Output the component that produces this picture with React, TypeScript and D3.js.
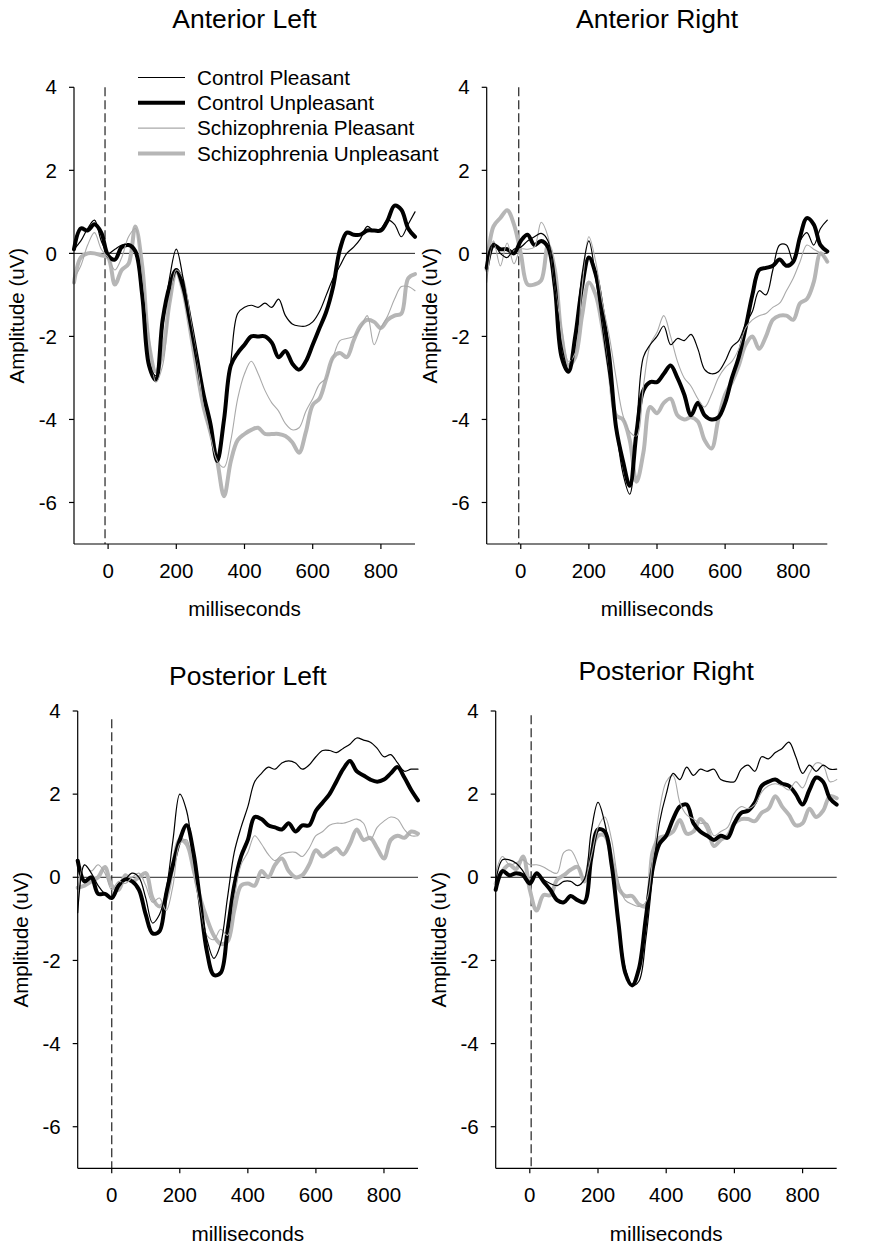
import React from "react";
import * as d3 from "d3";

// ---------- DATA ----------
const TIMES = [-100, -80, -60, -40, -20, 0, 20, 40, 60, 80, 100, 120, 140, 160, 180, 200, 220, 240, 260, 280, 300, 320, 340, 360, 380, 400, 420, 440, 460, 480, 500, 520, 540, 560, 580, 600, 620, 640, 660, 680, 700, 720, 740, 760, 780, 800, 820, 840, 860, 880, 900];

const X_TICKS = [0, 200, 400, 600, 800];
const Y_TICKS = [4, 2, 0, -2, -4, -6];
const SERIES_NAMES = ["Control Pleasant", "Control Unpleasant", "Schizophrenia Pleasant", "Schizophrenia Unpleasant"];
const PANEL_TITLES = ["Anterior Left", "Anterior Right", "Posterior Left", "Posterior Right"];
const ONSET_MARK = [-9, -6, 0, 4];
const ONSET_TOP = [4.0, 4.0, 3.8, 3.9];

// Anterior Left
const AL_CP = [0.1, 0.3, 0.6, 0.8, 0.3, 0.0, 0.1, 0.2, 0.2, 0.0, -1.0, -2.6, -2.95, -1.8, -0.6, 0.1, -0.6, -1.6, -2.5, -3.4, -4.1, -4.9, -4.0, -2.6, -1.45, -1.3, -1.25, -1.3, -1.2, -1.3, -1.1, -1.5, -1.7, -1.75, -1.75, -1.65, -1.4, -1.0, -0.6, -0.3, 0.0, 0.15, 0.35, 0.65, 0.55, 0.6, 0.8, 0.7, 0.4, 0.7, 1.0];
const AL_CU = [0.1, 0.6, 0.55, 0.7, 0.5, -0.05, -0.15, 0.15, 0.2, 0.05, -1.0, -2.7, -3.05, -1.6, -0.8, -0.4, -0.8, -1.6, -2.5, -3.4, -4.1, -5.0, -4.0, -2.7, -2.4, -2.2, -2.0, -2.0, -2.0, -2.15, -2.5, -2.35, -2.65, -2.8, -2.6, -2.2, -1.8, -1.4, -0.8, 0.1, 0.5, 0.45, 0.45, 0.55, 0.55, 0.55, 0.8, 1.15, 1.05, 0.6, 0.4];
const AL_SP = [-0.6, -0.3, 0.2, 0.5, 0.1, -0.1, -0.4, -0.1, 0.4, 0.6, -0.5, -2.0, -3.1, -2.7, -1.2, -0.4, -0.6, -1.5, -2.5, -3.7, -4.4, -5.0, -5.15, -4.5, -3.5, -2.9, -2.6, -2.9, -3.3, -3.6, -3.8, -4.1, -4.25, -4.2, -3.8, -3.5, -3.15, -3.0, -2.5, -2.1, -2.05, -2.0, -1.8, -1.5, -2.2, -1.8, -1.5, -1.1, -0.8, -0.8, -0.9];
const AL_SU = [-0.7, -0.1, 0.0, 0.0, -0.05, -0.1, -0.75, -0.4, -0.25, 0.65, -0.3, -2.2, -2.85, -2.4, -1.2, -0.45, -0.9, -1.8, -2.8, -3.7, -4.3, -5.0, -5.85, -5.0, -4.5, -4.35, -4.25, -4.2, -4.35, -4.35, -4.35, -4.4, -4.55, -4.8, -4.3, -3.65, -3.5, -3.0, -2.5, -2.4, -2.5, -2.1, -1.75, -1.6, -1.65, -1.8, -1.6, -1.5, -1.45, -0.6, -0.5];

// Anterior Right
const AR_CP = [-0.3, 0.25, 0.0, -0.1, 0.1, 0.15, 0.3, 0.4, 0.48, 0.3, -0.8, -2.2, -2.8, -2.0, -0.5, 0.3, -0.6, -1.8, -3.0, -4.2, -5.3, -5.8, -4.2, -2.5, -2.2, -2.0, -1.75, -2.2, -2.05, -2.1, -1.95, -2.3, -2.8, -2.9, -2.85, -2.6, -2.25, -2.1, -1.7, -1.4, -0.9, -1.0, -0.4, 0.2, 0.2, -0.2, 0.3, 0.5, 0.2, 0.6, 0.8];
const AR_CU = [-0.35, 0.2, 0.1, 0.1, 0.0, 0.3, 0.45, 0.2, 0.3, 0.15, -0.8, -2.5, -2.85, -2.0, -0.8, -0.1, -0.5, -1.4, -2.5, -4.2, -5.0, -5.6, -4.3, -3.3, -3.1, -3.1, -2.9, -2.7, -3.0, -3.4, -3.9, -3.6, -3.9, -4.0, -3.95, -3.6, -3.0, -2.5, -1.8, -1.0, -0.4, -0.35, -0.3, -0.15, -0.3, -0.2, 0.4, 0.85, 0.7, 0.2, 0.05];
const AR_SP = [-0.7, 0.3, -0.3, 0.25, -0.25, 0.1, 0.1, 0.15, 0.75, 0.4, -0.8, -1.8, -2.6, -2.4, -0.8, 0.4, -0.2, -1.2, -2.0, -3.0, -3.9, -4.3, -4.4, -3.2, -2.2, -1.9, -1.5, -2.0, -2.6, -3.0, -3.2, -3.5, -3.7, -3.4, -3.0, -2.75, -2.6, -2.3, -1.8, -1.6, -1.5, -1.45, -1.3, -1.2, -0.9, -0.6, -0.2, 0.2, 0.1, 0.0, -0.2];
const AR_SU = [-0.4, 0.65, 0.85, 1.04, 0.7, 0.0, -0.75, -0.75, -0.65, 0.2, -0.4, -2.0, -2.7, -2.5, -1.5, -0.7, -1.0, -1.8, -2.8, -3.9, -4.0, -4.5, -5.5, -4.8, -3.7, -3.85, -3.6, -3.5, -3.9, -4.0, -3.95, -4.05, -4.5, -4.7, -4.0, -3.4, -3.1, -2.7, -2.2, -2.0, -2.3, -2.0, -1.6, -1.5, -1.5, -1.6, -1.2, -1.1, -0.7, 0.0, -0.2];

// Posterior Left
const PL_CP = [-0.85, 0.3, 0.1, -0.2, -0.4, -0.5, -0.2, -0.05, 0.1, 0.0, -0.5, -1.1, -0.9, -0.3, 0.9, 2.0, 1.6, 0.5, -0.6, -1.5, -1.95, -1.6, -0.5, 0.6, 1.2, 1.7, 2.3, 2.5, 2.65, 2.6, 2.75, 2.8, 2.75, 2.6, 2.7, 2.9, 3.05, 3.05, 3.0, 3.1, 3.2, 3.35, 3.3, 3.25, 3.1, 2.9, 2.95, 2.75, 2.55, 2.6, 2.6];
const PL_CU = [0.4, -0.1, 0.0, -0.4, -0.4, -0.5, -0.2, -0.05, -0.1, -0.3, -0.9, -1.35, -1.3, -0.4, 0.3, 0.9, 1.25, 0.6, -0.6, -1.8, -2.35, -2.3, -1.3, -0.2, 0.5, 0.9, 1.45, 1.4, 1.25, 1.2, 1.15, 1.3, 1.1, 1.25, 1.25, 1.6, 1.8, 2.0, 2.3, 2.6, 2.8, 2.55, 2.45, 2.35, 2.3, 2.35, 2.5, 2.65, 2.4, 2.1, 1.85];
const PL_SP = [-0.3, 0.3, 0.15, 0.3, 0.1, -0.3, -0.1, -0.15, 0.0, 0.1, -0.2, -0.6, -0.5, -0.8, -0.2, 0.8, 0.9, 0.1, -0.7, -1.4, -1.5, -1.25, -1.4, -0.5, 0.3, 0.6, 1.0, 0.8, 0.55, 0.4, 0.55, 0.6, 0.6, 0.5, 0.7, 1.0, 1.1, 1.25, 1.3, 1.3, 1.35, 1.4, 1.3, 0.9, 1.2, 1.35, 1.45, 1.4, 1.15, 1.0, 1.0];
const PL_SU = [-0.25, -0.2, -0.1, 0.0, 0.25, -0.2, -0.3, 0.05, -0.1, 0.0, 0.1, -0.5, -0.7, -0.5, 0.3, 0.9, 0.8, 0.2, -0.5, -1.0, -1.4, -1.6, -1.55, -0.8, -0.2, -0.15, -0.2, 0.15, 0.0, 0.3, 0.45, 0.15, 0.0, 0.05, 0.3, 0.65, 0.5, 0.6, 0.7, 0.55, 0.8, 1.15, 0.9, 0.95, 0.7, 0.45, 0.9, 1.0, 0.95, 1.1, 1.05];

// Posterior Right
const PR_CP = [-0.1, 0.42, 0.42, 0.34, 0.15, -0.1, 0.1, -0.05, -0.15, -0.2, -0.1, -0.1, -0.2, -0.05, 1.1, 1.8, 1.3, 0.3, -1.0, -2.2, -2.6, -2.5, -1.5, 0.0, 1.3, 2.0, 2.5, 2.35, 2.65, 2.45, 2.6, 2.55, 2.6, 2.35, 2.3, 2.3, 2.6, 2.7, 2.55, 2.9, 2.85, 3.0, 3.1, 3.25, 2.9, 2.5, 2.7, 2.55, 2.7, 2.6, 2.6];
const PR_CU = [-0.3, 0.15, 0.05, 0.1, 0.05, -0.15, 0.1, -0.1, -0.3, -0.55, -0.6, -0.45, -0.55, -0.6, 0.45, 1.15, 1.1, 0.3, -1.1, -2.3, -2.6, -2.2, -1.0, 0.2, 0.8, 1.0, 1.4, 1.7, 1.75, 1.3, 1.1, 1.0, 0.9, 1.0, 0.95, 1.3, 1.55, 1.6, 1.8, 2.2, 2.3, 2.35, 2.25, 2.2, 2.0, 1.75, 2.1, 2.4, 2.3, 1.9, 1.75];
const PR_SP = [0.1, 0.5, 0.3, 0.35, 0.42, 0.3, 0.3, 0.25, 0.15, 0.1, 0.6, 0.65, 0.35, -0.05, 0.5, 1.2, 1.45, 0.9, -0.1, -0.55, -0.65, -0.7, -0.6, 0.4, 1.6, 2.3, 2.45, 1.8, 1.5, 1.4, 1.3, 1.3, 1.0, 1.1, 1.2, 1.55, 1.7, 1.65, 1.75, 2.05, 2.2, 2.25, 2.2, 2.1, 2.3, 2.15, 2.5, 2.75, 2.7, 2.3, 2.35];
const PR_SU = [-0.15, 0.15, 0.3, 0.2, 0.5, -0.3, -0.8, -0.43, -0.43, -0.06, 0.05, 0.18, 0.25, -0.1, 0.6, 1.0, 1.0, 0.45, -0.25, -0.45, -0.45, -0.65, -0.7, 0.6, 0.95, 1.0, 1.1, 1.38, 1.05, 1.1, 1.4, 1.2, 0.75, 0.9, 1.0, 1.3, 1.4, 1.4, 1.35, 1.55, 1.65, 1.95, 1.7, 1.5, 1.25, 1.3, 1.65, 1.45, 1.6, 1.95, 1.9];

const PANEL_DATA = [
  [AL_CP, AL_CU, AL_SP, AL_SU],
  [AR_CP, AR_CU, AR_SP, AR_SU],
  [PL_CP, PL_CU, PL_SP, PL_SU],
  [PR_CP, PR_CU, PR_SP, PR_SU],
];

// ---------- LAYOUT / STYLE ----------
const W = 892;
const H = 1250;
const FONT = "'Liberation Sans', Arial, Helvetica, sans-serif";

const LAYOUT = [
  { left: 74, right: 415, top: 87.3, bottom: 544, titleY: 28 },
  { left: 486.7, right: 827.3, top: 87.3, bottom: 544, titleY: 28 },
  { left: 77.7, right: 418, top: 711, bottom: 1168.3, titleY: 685 },
  { left: 495.7, right: 836.7, top: 711, bottom: 1168.3, titleY: 680 },
];

const STYLES = [
  { color: "#000000", width: 1.2 },
  { color: "#000000", width: 4 },
  { color: "#a9a9a9", width: 1.1 },
  { color: "#b6b6b6", width: 4 },
];
const DRAW_ORDER = [3, 1, 2, 0];

function Panel({ idx }: { idx: number }) {
  const L = LAYOUT[idx];
  const x = d3.scaleLinear().domain([-100, 900]).range([L.left, L.right]);
  const y = d3.scaleLinear().domain([4, -7]).range([L.top, L.bottom]);
  const line = d3
    .line<[number, number]>()
    .x((d) => x(d[0]))
    .y((d) => y(d[1]))
    .curve(d3.curveCatmullRom.alpha(0.5));
  const series = PANEL_DATA[idx];
  const cx = (L.left + L.right) / 2;
  const cy = (L.top + L.bottom) / 2;
  return (
    <g fontFamily={FONT} fill="#000">
      <text x={cx} y={L.titleY} textAnchor="middle" fontSize={26.5}>
        {PANEL_TITLES[idx]}
      </text>
      <text
        transform={`translate(${L.left - 57},${cy}) rotate(-90)`}
        textAnchor="middle"
        dy="0.35em"
        fontSize={20.5}
      >
        Amplitude (uV)
      </text>
      <text x={cx} y={L.bottom + 65} textAnchor="middle" dy="0.35em" fontSize={20.7}>
        milliseconds
      </text>
      {/* zero line */}
      <line x1={x(-100)} x2={x(900)} y1={y(0)} y2={y(0)} stroke="#222" strokeWidth={1} />
      {/* onset marker */}
      <line
        x1={x(ONSET_MARK[idx])}
        x2={x(ONSET_MARK[idx])}
        y1={y(ONSET_TOP[idx])}
        y2={L.bottom}
        stroke="#333"
        strokeWidth={1.3}
        strokeDasharray="9,4"
      />
      {/* series */}
      {DRAW_ORDER.map((s) => (
        <path
          key={s}
          d={line(TIMES.map((t, i) => [t, series[s][i]] as [number, number])) || ""}
          fill="none"
          stroke={STYLES[s].color}
          strokeWidth={STYLES[s].width}
          strokeLinejoin="round"
          strokeLinecap="round"
        />
      ))}
      {/* axes */}
      <line x1={L.left} x2={L.left} y1={L.top} y2={L.bottom} stroke="#000" strokeWidth={1.2} />
      <line x1={L.left} x2={L.right} y1={L.bottom} y2={L.bottom} stroke="#000" strokeWidth={1.2} />
      {Y_TICKS.map((v) => (
        <g key={"y" + v}>
          <line x1={L.left - 5} x2={L.left} y1={y(v)} y2={y(v)} stroke="#000" strokeWidth={1.2} />
          <text x={L.left - 17} y={y(v)} dy="0.35em" textAnchor="end" fontSize={20.5}>
            {String(v)}
          </text>
        </g>
      ))}
      {X_TICKS.map((v) => (
        <g key={"x" + v}>
          <line x1={x(v)} x2={x(v)} y1={L.bottom} y2={L.bottom + 5} stroke="#000" strokeWidth={1.2} />
          <text x={x(v)} y={L.bottom + 27} dy="0.35em" textAnchor="middle" fontSize={20.5}>
            {String(v)}
          </text>
        </g>
      ))}
      {idx === 0 && (
        <g>
          {SERIES_NAMES.map((name, i) => (
            <g key={name}>
              <line
                x1={138}
                x2={185}
                y1={77.5 + i * 25.3}
                y2={77.5 + i * 25.3}
                stroke={STYLES[i].color}
                strokeWidth={STYLES[i].width}
              />
              <text x={197} y={77.5 + i * 25.3} dy="0.35em" fontSize={20.7}>
                {name}
              </text>
            </g>
          ))}
        </g>
      )}
    </g>
  );
}

export default function App() {
  return (
    <svg
      width={W}
      height={H}
      viewBox={`0 0 ${W} ${H}`}
      style={{ position: "absolute", left: 0, top: 0, background: "#fff" }}
    >
      <rect width={W} height={H} fill="#fff" />
      {[0, 1, 2, 3].map((i) => (
        <Panel key={i} idx={i} />
      ))}
    </svg>
  );
}
